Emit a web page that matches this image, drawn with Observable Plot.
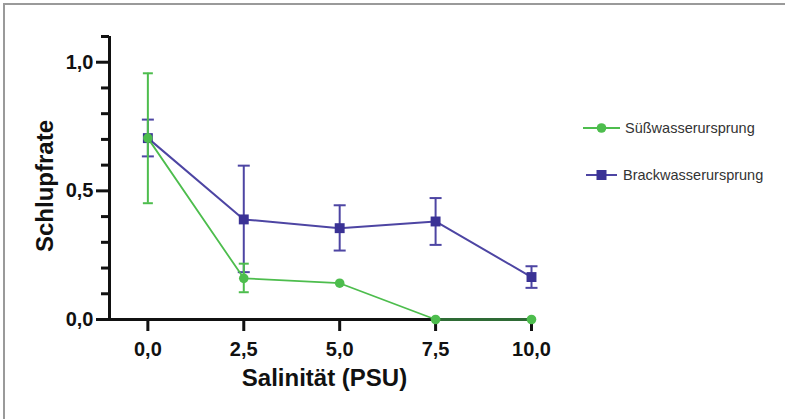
<!DOCTYPE html>
<html>
<head>
<meta charset="utf-8">
<script src="https://cdn.jsdelivr.net/npm/d3@7"></script>
<script src="https://cdn.jsdelivr.net/npm/@observablehq/plot@0.6"></script>
<style>
  html, body { margin: 0; padding: 0; background: #fff; }
  #wrap { position: relative; width: 785px; height: 419px; overflow: hidden; font-family: "Liberation Sans", Arial, sans-serif; }
  #frame { position: absolute; left: 3px; top: 3px; width: 800px; height: 430px; border-top: 2px solid #9a9a9a; border-left: 2px solid #9a9a9a; }
  #chart { position: absolute; left: 0; top: 0; }
  .leg { position: absolute; display: flex; align-items: center; font-size: 14.5px; color: #333; white-space: nowrap; }
  .leg svg { display: block; }
</style>
</head>
<body>
<div id="wrap">
  <div id="frame"></div>
  <div id="chart"></div>
  <div id="legend"></div>
</div>
<script>
// Data
const salinity = [0, 2.5, 5, 7.5, 10];
const seriesNames = ["Süßwasserursprung", "Brackwasserursprung"];
const suessMean = [0.705, 0.16, 0.141, 0, 0];
const suessLow  = [0.452, 0.106, null, null, null];
const suessHigh = [0.957, 0.217, null, null, null];
const brackMean = [0.705, 0.389, 0.355, 0.381, 0.165];
const brackLow  = [0.634, 0.184, 0.268, 0.290, 0.123];
const brackHigh = [0.777, 0.598, 0.444, 0.472, 0.207];
const xTicks = [0, 2.5, 5, 7.5, 10];
const yTicks = [0, 0.5, 1.0];
const yMinorTicks = [0.1, 0.2, 0.3, 0.4, 0.6, 0.7, 0.8, 0.9, 1.1];
const xLabel = "Salinität (PSU)";
const yLabel = "Schlupfrate";

const green = "#4dbd4d";
const purple = "#3a3295";
const purpleLine = "#4d45a3";

const fmt = d => d.toFixed(1).replace(".", ",");

const suess = salinity.map((x, i) => ({x, y: suessMean[i], lo: suessLow[i], hi: suessHigh[i]}));
const brack = salinity.map((x, i) => ({x, y: brackMean[i], lo: brackLow[i], hi: brackHigh[i]}));
const suessErr = suess.filter(d => d.lo != null);
const brackErr = brack.filter(d => d.lo != null);

const capSymbol = {
  draw(ctx, size) {
    const w = Math.sqrt(size / Math.PI);
    ctx.moveTo(-w, 0);
    ctx.lineTo(w, 0);
  }
};

const font = "Liberation Sans, Arial, sans-serif";

const chart = Plot.plot({
  width: 785,
  height: 419,
  marginLeft: 109,
  marginRight: 254,
  marginTop: 36,
  marginBottom: 100,
  style: {fontFamily: font, background: "transparent", overflow: "visible"},
  x: {domain: [-1, 10]},
  y: {domain: [0, 1.1]},
  marks: [
    // minor y ticks
    Plot.axisY(yMinorTicks, {tickSize: 8, text: null, strokeWidth: 3, stroke: "#111"}),
    // major y ticks with labels
    Plot.axisY(yTicks, {tickSize: 13, tickPadding: 3, tickFormat: fmt, fontSize: 20, fontWeight: "bold", fill: "#111", strokeWidth: 3, stroke: "#111", label: null}),
    Plot.axisX(xTicks, {tickSize: 12, tickPadding: 10, tickFormat: fmt, fontSize: 20, fontWeight: "bold", fill: "#111", strokeWidth: 3, stroke: "#111", label: null}),
    // axis lines
    Plot.ruleX([-1], {y1: 0, y2: 1.1, stroke: "#111", strokeWidth: 3}),
    Plot.ruleY([0], {x1: -1, x2: 10, stroke: "#111", strokeWidth: 3}),
    // Brackwasser series
    Plot.ruleX(brackErr, {x: "x", y1: "lo", y2: "hi", stroke: purpleLine, strokeWidth: 2}),
    Plot.dot(brackErr, {x: "x", y: "lo", symbol: capSymbol, r: 6, stroke: purpleLine, strokeWidth: 2, fill: "none"}),
    Plot.dot(brackErr, {x: "x", y: "hi", symbol: capSymbol, r: 6, stroke: purpleLine, strokeWidth: 2, fill: "none"}),
    Plot.line(brack, {x: "x", y: "y", stroke: purpleLine, strokeWidth: 2}),
    Plot.dot(brack, {x: "x", y: "y", symbol: "square", r: 5.6, fill: purple, stroke: "none"}),
    // Süßwasser series
    Plot.ruleX(suessErr, {x: "x", y1: "lo", y2: "hi", stroke: green, strokeWidth: 2}),
    Plot.dot(suessErr, {x: "x", y: "lo", symbol: capSymbol, r: 5, stroke: green, strokeWidth: 2, fill: "none"}),
    Plot.dot(suessErr, {x: "x", y: "hi", symbol: capSymbol, r: 5, stroke: green, strokeWidth: 2, fill: "none"}),
    Plot.line(suess, {x: "x", y: "y", stroke: green, strokeWidth: 1.8}),
    Plot.line(suess.filter(d => d.y === 0), {x: "x", y: "y", stroke: "#2e6a35", strokeWidth: 3}),
    Plot.dot(suess, {x: "x", y: "y", r: 4.8, fill: green, stroke: "none"}),
    // axis titles
    Plot.text([xLabel], {frameAnchor: "bottom", lineAnchor: "middle", textAnchor: "middle", dy: 59, dx: 4, fontSize: 24, fontWeight: "bold", fill: "#111"}),
    Plot.text([yLabel], {frameAnchor: "left", rotate: -90, textAnchor: "middle", lineAnchor: "middle", dx: -64, dy: 8, fontSize: 24, fontWeight: "bold", fill: "#111"})
  ]
});
document.getElementById("chart").appendChild(chart);

// Legend
const legend = document.getElementById("legend");
const legendItems = [
  {name: seriesNames[0], color: green, marker: "circle", left: 583, top: 128, lineW: 37},
  {name: seriesNames[1], color: purpleLine, markerColor: purple, marker: "square", left: 586, top: 175, lineW: 31}
];
legendItems.forEach(it => {
  const div = document.createElement("div");
  div.className = "leg";
  div.style.left = it.left + "px";
  div.style.top = (it.top - 10) + "px";
  div.style.height = "20px";
  const w = it.lineW;
  const marker = it.marker === "circle"
    ? `<circle cx="${w/2}" cy="10" r="4.8" fill="${it.color}"/>`
    : `<rect x="${w/2-5}" y="5" width="10" height="10" fill="${it.markerColor}"/>`;
  div.innerHTML = `<svg width="${w}" height="20"><line x1="0" x2="${w}" y1="10" y2="10" stroke="${it.color}" stroke-width="2"/>${marker}</svg><span style="margin-left:${it.marker === "circle" ? 5 : 6}px">${it.name}</span>`;
  legend.appendChild(div);
});
</script>
</body>
</html>
